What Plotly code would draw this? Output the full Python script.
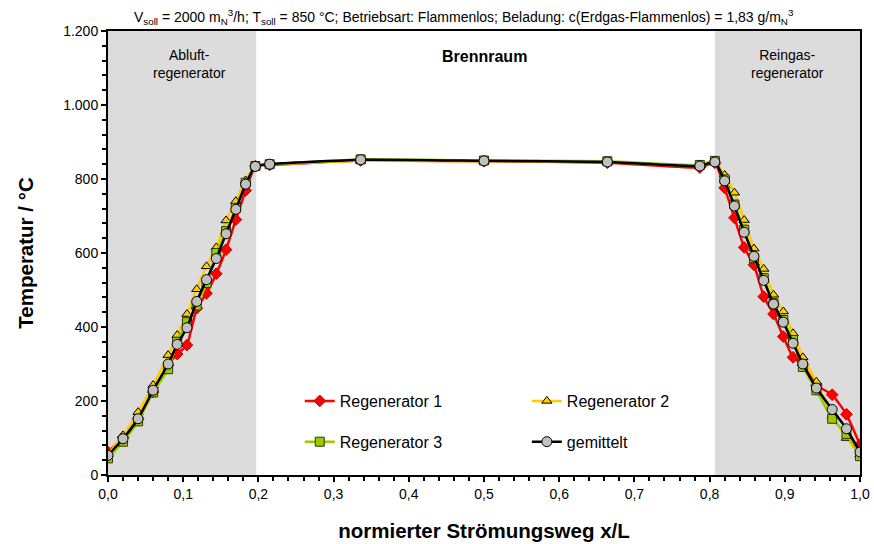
import plotly.graph_objects as go

# Normalised flow path positions (x/L)
x_pos = [0.0, 0.02, 0.04, 0.06, 0.08, 0.092, 0.105, 0.118, 0.131, 0.144, 0.157, 0.170, 0.183, 0.196, 0.215,
         0.336, 0.5, 0.664,
         0.787, 0.807, 0.820, 0.833, 0.846, 0.859, 0.872, 0.885, 0.898, 0.911, 0.924, 0.942, 0.963, 0.982, 1.0]

# Temperatures in °C
reg1 = [62, 102, 152, 224, 297, 327, 351, 451, 491, 544, 609, 690, 769, 835, 838,
        850, 848, 844,
        831, 844, 776, 695, 615, 568, 482, 435, 374, 318, 297, 243, 217, 164, 82]
reg2 = [57, 107, 170, 243, 324, 378, 435, 502, 564, 615, 688, 740, 796, 835, 840,
        849, 848, 846,
        836, 845, 811, 763, 689, 612, 557, 487, 442, 383, 318, 252, 160, 100, 55]
reg3 = [45, 90, 145, 223, 286, 360, 413, 458, 519, 600, 659, 722, 790, 835, 840,
        853, 850, 848,
        838, 849, 799, 731, 663, 586, 532, 464, 419, 365, 292, 229, 152, 111, 51]
mean = [53, 98, 152, 229, 300, 353, 398, 469, 528, 585, 652, 718, 786, 834, 840,
        852, 849, 846,
        835, 846, 795, 727, 656, 591, 526, 462, 413, 356, 300, 235, 177, 125, 62]

x_ticks = [0.0, 0.1, 0.2, 0.3, 0.4, 0.5, 0.6, 0.7, 0.8, 0.9, 1.0]
y_ticks = [0, 200, 400, 600, 800, 1000, 1200]

# Section boundaries (regenerators / combustion chamber)
left_end = 0.197
right_start = 0.807

font_family = "Liberation Sans, Arial, sans-serif"

series = [
    ("Regenerator 1", reg1, "#FF0000", "diamond", "#CC0000", "legend"),
    ("Regenerator 2", reg2, "#FFCC00", "triangle-up", "#000000", "legend2"),
    ("Regenerator 3", reg3, "#99CC00", "square", "#333300", "legend"),
    ("gemittelt", mean, "#000000", "circle", "#000000", "legend2"),
]

fig = go.Figure()
for name, vals, col, sym, edge, leg in series:
    fig.add_trace(go.Scatter(
        x=x_pos, y=vals, name=name, mode="lines+markers",
        line=dict(color=col, width=2.5, shape="spline", smoothing=0.4),
        marker=dict(symbol=sym, size=9 if sym != "circle" else 10,
                    color=("#C0C0C0" if sym == "circle" else col),
                    line=dict(color=edge, width=1)),
        legend=leg, legendgroup=name,
    ))

# Shaded regenerator zones
for x0, x1 in [(0, left_end), (right_start, 1.0)]:
    fig.add_shape(type="rect", xref="x", yref="paper", x0=x0, x1=x1, y0=0, y1=1,
                  fillcolor="#DCDCDC", line=dict(width=0), layer="below")

annots = [
    dict(x=0.109, y=1111, text="Abluft-<br>regenerator", font=dict(size=14)),
    dict(x=0.5, y=1130, text="<b>Brennraum</b>", font=dict(size=16)),
    dict(x=0.903, y=1111, text="Reingas-<br>regenerator", font=dict(size=14)),
]
for a in annots:
    fig.add_annotation(xref="x", yref="y", showarrow=False, yanchor="middle",
                       x=a["x"], y=a["y"], text=a["text"],
                       font=dict(family=font_family, color="#000000", **a["font"]))

fig.add_annotation(
    xref="paper", yref="paper", x=0.473, y=1.0, yanchor="bottom", xanchor="center",
    yshift=2, showarrow=False,
    text="V<sub>soll</sub> = 2000 m<sub>N</sub><sup>3</sup>/h; T<sub>soll</sub> = 850 °C; "
         "Betriebsart: Flammenlos; Beladung: c(Erdgas-Flammenlos) = 1,83 g/m<sub>N</sub><sup>3</sup>",
    font=dict(family=font_family, size=14, color="#000000"))

legend_common = dict(
    font=dict(family=font_family, size=16, color="#000000"),
    bgcolor="rgba(0,0,0,0)", borderwidth=0, orientation="v",
    itemwidth=30, tracegroupgap=17, yanchor="top", xanchor="left",
)

fig.update_layout(
    width=874, height=544,
    margin=dict(l=108, r=14, t=31, b=69),
    paper_bgcolor="#FFFFFF", plot_bgcolor="#FFFFFF",
    separators=",.",
    font=dict(family=font_family, color="#000000"),
    legend=dict(x=0.255, y=0.205, **legend_common),
    legend2=dict(x=0.557, y=0.205, **legend_common),
    xaxis=dict(
        range=[0, 1.0], tickvals=x_ticks, tickformat=".1f", automargin=False,
        ticks="outside", ticklen=5, tickwidth=1.5, tickcolor="#000000",
        minor=dict(dtick=0.02, ticks="outside", ticklen=4, tickwidth=1.5, tickcolor="#000000"),
        showline=True, linecolor="#000000", linewidth=2, mirror=True,
        showgrid=False, zeroline=False,
        tickfont=dict(family=font_family, size=14),
        title=dict(text="<b>normierter Strömungsweg x/L</b>",
                   font=dict(family=font_family, size=20.5), standoff=23),
    ),
    yaxis=dict(
        range=[0, 1200], tickvals=y_ticks, tickformat=",d", automargin=False,
        ticks="outside", ticklen=5, tickwidth=1.5, tickcolor="#000000",
        minor=dict(dtick=40, ticks="outside", ticklen=4, tickwidth=1.5, tickcolor="#000000"),
        showline=True, linecolor="#000000", linewidth=2, mirror=True,
        showgrid=False, zeroline=False,
        tickfont=dict(family=font_family, size=14),
        title=dict(text="<b>Temperatur / °C</b>",
                   font=dict(family=font_family, size=20.5), standoff=24),
    ),
)

fig.write_html("out.html")
